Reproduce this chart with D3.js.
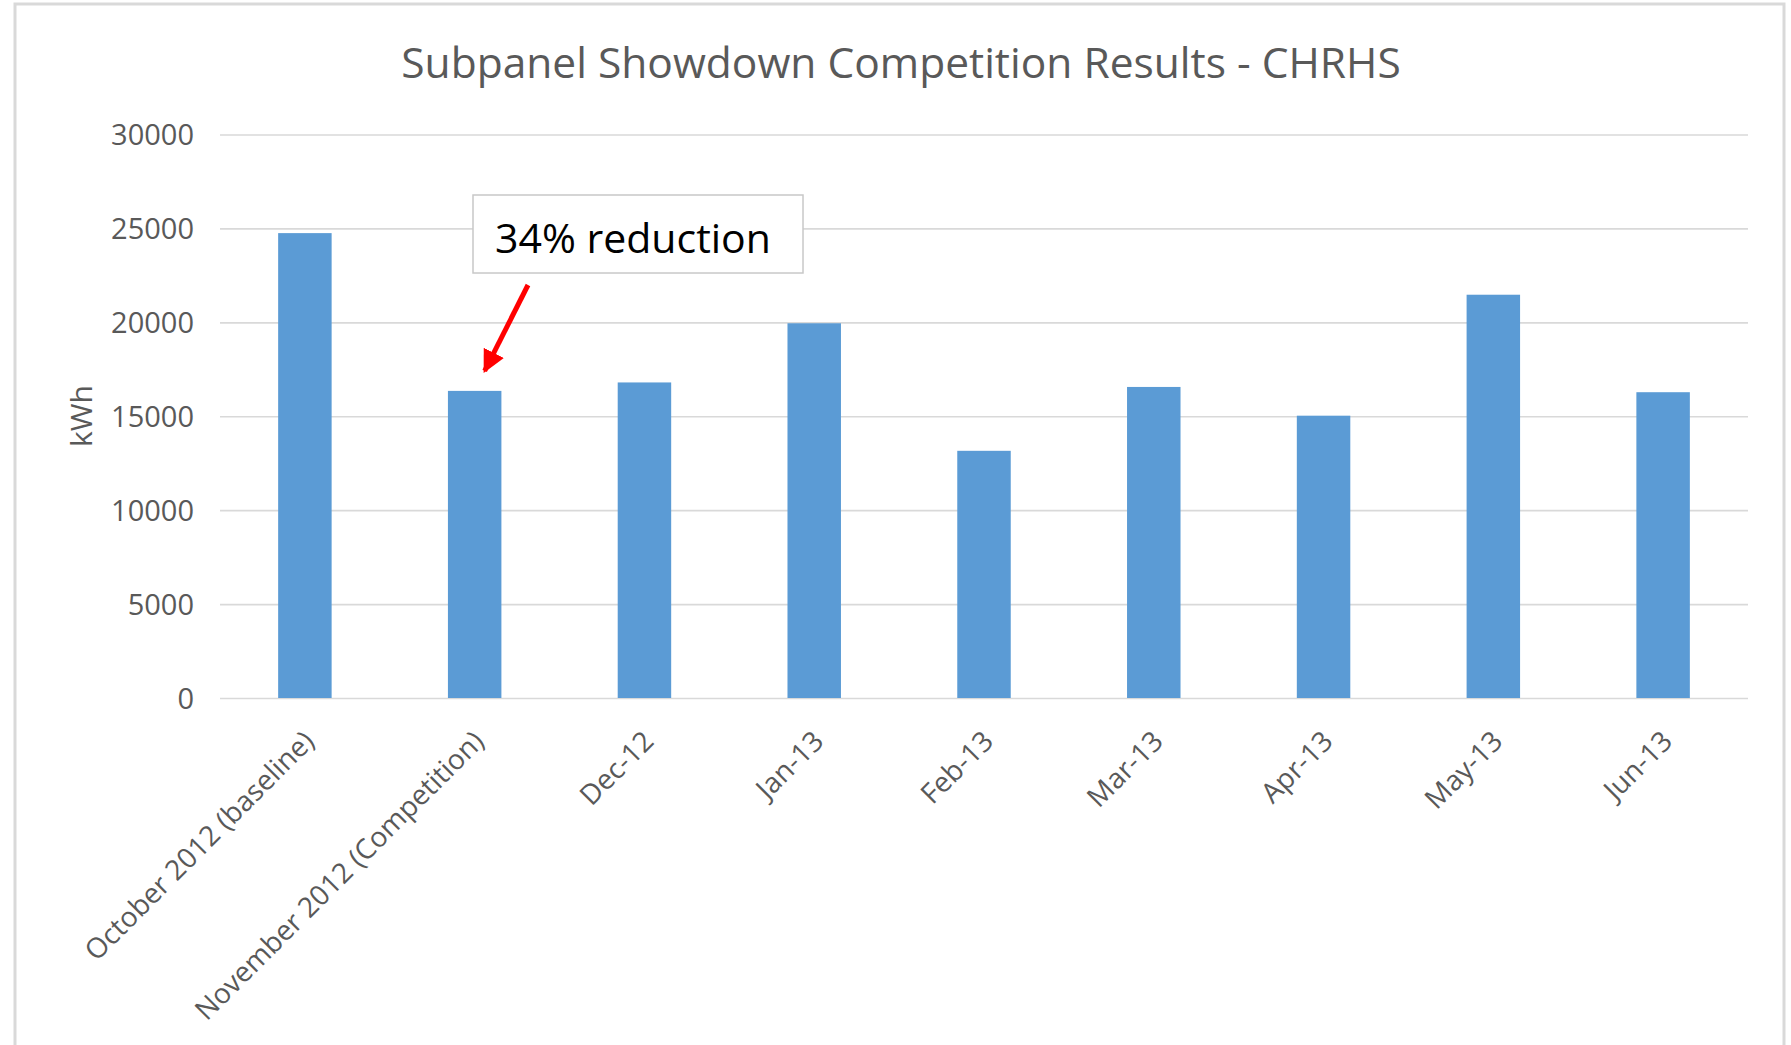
<!DOCTYPE html>
<html>
<head>
<meta charset="utf-8">
<script src="https://cdn.jsdelivr.net/npm/d3@7"></script>
<style>
  body { margin: 0; background: #fff; }
  text { font-family: "Open Sans", sans-serif; }
</style>
</head>
<body>
<script>
// data
var months = ["October 2012 (baseline)", "November 2012 (Competition)", "Dec-12", "Jan-13",
              "Feb-13", "Mar-13", "Apr-13", "May-13", "Jun-13"];
var kwh = [24750, 16350, 16800, 19950, 13160, 16560, 15030, 21470, 16280];
var yTicks = [0, 5000, 10000, 15000, 20000, 25000, 30000];
var title = "Subpanel Showdown Competition Results - CHRHS";
var note = "34% reduction";

var w = 1791, h = 1045;
// note: "top" is taken by window.top, so plot edges get their own names
var plotLeft = 220, plotRight = 1748, plotTop = 134.5, plotBottom = 698;

var svg = d3.select("body")
            .append("svg")
            .attr("width", w)
            .attr("height", h);

// outer frame of the chart picture
svg.append("rect")
   .attr("x", 15).attr("y", 4)
   .attr("width", 1769).attr("height", 1060)
   .attr("fill", "none")
   .attr("stroke", "#d9d9d9")
   .attr("stroke-width", 3);

var x = d3.scaleBand()
          .domain(months)
          .range([plotLeft, plotRight])
          .paddingInner(0.685)
          .paddingOuter(0.3425);

var y = d3.scaleLinear()
          .domain([0, 30000])
          .range([plotBottom, plotTop]);

// gridlines + tick labels
var yAxis = svg.append("g")
   .attr("transform", "translate(" + plotLeft + ",0)")
   .call(d3.axisLeft(y).tickValues(yTicks).tickSize(-(plotRight - plotLeft)).tickPadding(26).tickFormat(d3.format("d")));
yAxis.select(".domain").remove();
yAxis.selectAll("line").attr("stroke", "#d9d9d9").attr("stroke-width", 1.6);
yAxis.selectAll("text")
     .attr("fill", "#595959")
     .attr("font-size", "29px")
     .attr("font-family", "Open Sans, sans-serif")
     .attr("dy", "0.36em");

// bars
svg.selectAll("rect.bar")
   .data(kwh)
   .enter()
   .append("rect")
   .attr("class", "bar")
   .attr("x", function(d, i) { return x(months[i]); })
   .attr("y", function(d) { return y(d); })
   .attr("width", x.bandwidth())
   .attr("height", function(d) { return y(0) - y(d); })
   .attr("fill", "#5b9bd5");

// category labels, rotated
svg.selectAll("text.cat")
   .data(months)
   .enter()
   .append("text")
   .attr("class", "cat")
   .attr("text-anchor", "end")
   .attr("font-size", "28px")
   .attr("fill", "#595959")
   .attr("transform", function(d) {
       var cx = x(d) + x.bandwidth() / 2 + 11;
       return "translate(" + cx + "," + (plotBottom + 45) + ") rotate(-45)";
   })
   .text(function(d) { return d; });

// title
svg.append("text")
   .attr("x", 901).attr("y", 78)
   .attr("text-anchor", "middle")
   .attr("font-size", "42.5px")
   .attr("fill", "#595959")
   .text(title);

// y axis label
svg.append("text")
   .attr("transform", "translate(92,416) rotate(-90)")
   .attr("text-anchor", "middle")
   .attr("font-size", "30px")
   .attr("fill", "#595959")
   .text("kWh");

// annotation box + arrow pointing at the competition bar
var bx = x(months[1]) + x.bandwidth() / 2;
var by = y(kwh[1]);

svg.append("rect")
   .attr("x", 473).attr("y", 195)
   .attr("width", 330).attr("height", 78)
   .attr("fill", "#fff")
   .attr("stroke", "#c8c8c8")
   .attr("stroke-width", 1.5);

svg.append("text")
   .attr("x", 633).attr("y", 253)
   .attr("text-anchor", "middle")
   .attr("font-size", "41px")
   .attr("fill", "#000")
   .text(note);

svg.append("defs").append("marker")
   .attr("id", "head")
   .attr("viewBox", "0 0 10 10")
   .attr("refX", 9).attr("refY", 5)
   .attr("markerWidth", 4.5).attr("markerHeight", 4.5)
   .attr("orient", "auto")
   .append("path")
   .attr("d", "M0,0 L10,5 L0,10 z")
   .attr("fill", "#ff0000");

svg.append("line")
   .attr("x1", 528).attr("y1", 285)
   .attr("x2", bx + 10).attr("y2", by - 20)
   .attr("stroke", "#ff0000")
   .attr("stroke-width", 5)
   .attr("marker-end", "url(#head)");
</script>
</body>
</html>
